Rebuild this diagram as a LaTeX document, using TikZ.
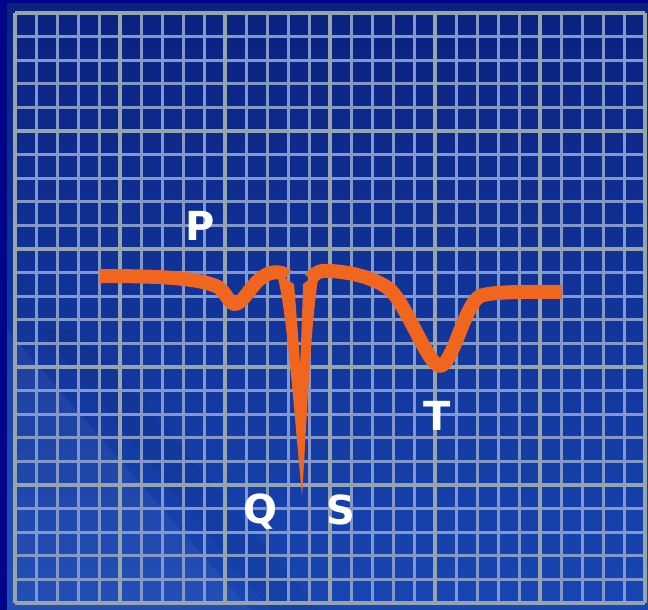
\documentclass[tikz,border=0pt]{standalone}
\usepackage{fontspec}
\newfontfamily\lblfont{DejaVu Sans}
\definecolor{outernavy}{RGB}{2,4,138}
\definecolor{paneltop}{RGB}{10,34,128}
\definecolor{panelbot}{RGB}{24,70,178}
\definecolor{gridthin}{RGB}{132,152,200}
\definecolor{gridthick}{RGB}{150,164,172}
\definecolor{ecg}{RGB}{240,102,30}
\begin{document}
\begin{tikzpicture}[x=0.5pt,y=-0.5pt,
  thingrid/.style={draw=gridthin,line width=1.5pt},
  thickgrid/.style={draw=gridthick,line width=2.4pt},
  trace/.style={draw=ecg,line width=7pt,line join=round},
  wavelabel/.style={text=white,font=\lblfont\bfseries\fontsize{20}{24}\selectfont,inner sep=0pt}]
\useasboundingbox (0,0) rectangle (648,610);
\fill[outernavy] (0,0) rectangle (648,610);
\shade[top color=paneltop,bottom color=panelbot] (7,4) rectangle (648,610);
% subtle diagonal shading in lower left
\fill[white,opacity=0.05] (7,330) -- (250,610) -- (7,610) -- cycle;
\fill[black,opacity=0.05] (40,330) -- (80,330) -- (320,610) -- (270,610) -- cycle;
% grid
\foreach \i in {0,...,30}{
  \pgfmathsetmacro\xx{15+21*\i}
  \draw[thingrid] (\xx,13) -- (\xx,603);
}
\foreach \j in {0,...,25}{
  \pgfmathsetmacro\yy{13+23.6*\j}
  \draw[thingrid] (15,\yy) -- (645,\yy);
}
\foreach \i in {0,5,...,30}{
  \pgfmathsetmacro\xx{15+21*\i}
  \draw[thickgrid] (\xx,13) -- (\xx,603);
}
\foreach \j in {0,5,...,25}{
  \pgfmathsetmacro\yy{13+23.6*\j}
  \draw[thickgrid] (15,\yy) -- (645,\yy);
}
% ECG trace
\draw[trace] (100,276) .. controls (160,276) and (200,278) .. (218,287)
  .. controls (226,292) and (229,304) .. (235,304)
  .. controls (243,304) and (252,283) .. (264,276)
  .. controls (272,271) and (281,271) .. (287,276);
\fill[ecg] (276,272) .. controls (286,300) and (293,400) .. (302,496)
  .. controls (307,420) and (310,330) .. (319,272)
  -- (303,284) .. controls (302,320) and (301,345) .. (300,366)
  .. controls (299,345) and (297,320) .. (294,284) -- cycle;
\draw[trace] (311,279) .. controls (315,272) and (321,270) .. (330,271)
  .. controls (350,272) and (372,277) .. (388,288)
  .. controls (405,300) and (428,366) .. (440,366)
  .. controls (452,366) and (465,304) .. (480,296)
  .. controls (495,291) and (530,292) .. (562,292);
% labels
\node[wavelabel] (P) at (200,226) {P};
\node[wavelabel] (Q) at (260,512) {Q};
\node[wavelabel] (S) at (341,510) {S};
\node[wavelabel] (T) at (437,416) {T};
\end{tikzpicture}
\end{document}
